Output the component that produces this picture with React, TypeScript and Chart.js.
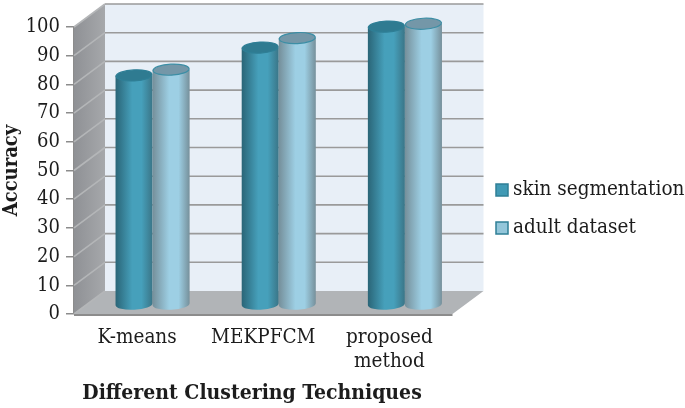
import React, { useEffect, useRef } from "react";
import { Chart, registerables } from "chart.js";

Chart.register(...registerables);

const categories = ["K-means", "MEKPFCM", ["proposed", "method"]];
const skinSegmentation = [80, 89.7, 97];
const adultDataset = [82, 93, 98];
const seriesNames = ["skin segmentation", "adult dataset"];
const xTitle = "Different Clustering Techniques";
const yTitle = "Accuracy";

const FONT = "'DejaVu Serif Condensed', 'DejaVu Serif', serif";
const DX = 31;
const DY = 23;
const TEXT = "#1c1c1c";

const palette = [
  { edgeL: "#2a6577", mid: "#46a0bb", edgeR: "#3a7587", top: "#2f7b91", line: "#2f7f96", swatch: "#419ab5" },
  { edgeL: "#758f9a", mid: "#9dcfe4", edgeR: "#76909b", top: "#7497a8", line: "#3c8ea5", swatch: "#93c6da" },
];

const scene = {
  id: "scene",
  beforeDatasetsDraw(chart: any) {
    const { ctx, scales } = chart;
    const y = scales.y;
    const x0 = scales.x.left;
    const x1 = scales.x.right;
    const bottom = y.getPixelForValue(0);
    const top = y.getPixelForValue(100);
    ctx.save();
    ctx.fillStyle = "#e8eff7";
    ctx.fillRect(x0 + DX, top - DY, x1 - x0, bottom - top);
    const g = ctx.createLinearGradient(x0, 0, x0 + DX, 0);
    g.addColorStop(0, "#8f9195");
    g.addColorStop(1, "#a6a8ab");
    ctx.fillStyle = g;
    ctx.beginPath();
    ctx.moveTo(x0, top);
    ctx.lineTo(x0 + DX, top - DY);
    ctx.lineTo(x0 + DX, bottom - DY);
    ctx.lineTo(x0, bottom);
    ctx.closePath();
    ctx.fill();
    ctx.fillStyle = "#b1b4b7";
    ctx.beginPath();
    ctx.moveTo(x0, bottom);
    ctx.lineTo(x0 + DX, bottom - DY);
    ctx.lineTo(x1 + DX, bottom - DY);
    ctx.lineTo(x1, bottom);
    ctx.closePath();
    ctx.fill();
    ctx.lineWidth = 1.6;
    y.ticks.forEach((t: any) => {
      const p = y.getPixelForValue(t.value);
      ctx.strokeStyle = "#b4b6b8";
      ctx.beginPath();
      ctx.moveTo(x0, p);
      ctx.lineTo(x0 + DX, p - DY);
      ctx.stroke();
      if (t.value > 0) {
        ctx.strokeStyle = "#9a9a9a";
        ctx.beginPath();
        ctx.moveTo(x0 + DX, p - DY);
        ctx.lineTo(x1 + DX, p - DY);
        ctx.stroke();
      }
    });
    ctx.strokeStyle = "#8c8c8c";
    ctx.lineWidth = 2;
    ctx.beginPath();
    ctx.moveTo(x0, bottom + 1);
    ctx.lineTo(x1, bottom + 1);
    ctx.stroke();
    ctx.restore();
  },
  afterDatasetsDraw(chart: any) {
    const { ctx } = chart;
    const ox = DX / 2;
    const oy = 9;
    const ry = 5.5;
    const tilt = -0.05;
    const n = chart.data.labels.length;
    ctx.save();
    for (let j = 0; j < n; j++) {
      [0, 1].forEach((i) => {
        const el = chart.getDatasetMeta(i).data[j];
        const c = palette[i];
        const cx = el.x + ox;
        const rx = el.width / 2;
        const t = el.y - oy;
        const b = el.base - oy;
        const g = ctx.createLinearGradient(cx - rx, 0, cx + rx, 0);
        g.addColorStop(0, c.edgeL);
        g.addColorStop(0.45, c.mid);
        g.addColorStop(0.7, c.mid);
        g.addColorStop(1, c.edgeR);
        ctx.fillStyle = g;
        ctx.beginPath();
        ctx.moveTo(cx - rx, t);
        ctx.lineTo(cx - rx, b);
        ctx.ellipse(cx, b, rx, ry, tilt, Math.PI, 0, true);
        ctx.lineTo(cx + rx, t);
        ctx.closePath();
        ctx.fill();
        ctx.fillStyle = c.top;
        ctx.strokeStyle = c.line;
        ctx.lineWidth = 1.2;
        ctx.beginPath();
        ctx.ellipse(cx, t, rx - 0.5, ry, tilt, 0, Math.PI * 2);
        ctx.fill();
        ctx.stroke();
      });
    }
    ctx.restore();
  },
  afterDraw(chart: any) {
    const { ctx } = chart;
    ctx.save();
    ctx.fillStyle = TEXT;
    ctx.textBaseline = "middle";
    ctx.textAlign = "left";
    ctx.font = `20.5px ${FONT}`;
    [190, 228].forEach((cy, i) => {
      const c = palette[i];
      ctx.fillStyle = c.swatch;
      ctx.strokeStyle = "#2f7f96";
      ctx.lineWidth = 1.5;
      ctx.fillRect(496, cy - 6, 12, 12);
      ctx.strokeRect(496, cy - 6, 12, 12);
      ctx.fillStyle = TEXT;
      ctx.fillText(chart.data.datasets[i].label, 513, cy);
    });
    ctx.textAlign = "center";
    ctx.font = `bold 21px ${FONT}`;
    ctx.fillText(xTitle, 252, 394);
    ctx.restore();
  },
};

export default function App() {
  const ref = useRef<HTMLCanvasElement>(null);
  useEffect(() => {
    const chart = new Chart(ref.current!, {
      type: "bar",
      data: {
        labels: categories as any,
        datasets: [
          { label: seriesNames[0], data: skinSegmentation, backgroundColor: "rgba(0,0,0,0)" },
          { label: seriesNames[1], data: adultDataset, backgroundColor: "rgba(0,0,0,0)" },
        ],
      },
      plugins: [scene],
      options: {
        responsive: false,
        animation: false,
        layout: { padding: { top: 27, right: 232.5, left: 0, bottom: 0 } },
        datasets: { bar: { categoryPercentage: 74 / 126, barPercentage: 1 } },
        plugins: { legend: { display: false }, tooltip: { enabled: false } },
        scales: {
          x: {
            grid: { display: false },
            border: { display: false },
            afterFit: (s: any) => { s.height = 94; },
            ticks: {
              color: TEXT,
              padding: 3,
              maxRotation: 0,
              font: { family: FONT, size: 20.5, lineHeight: 1.2 },
            },
          },
          y: {
            min: 0,
            max: 100,
            afterFit: (s: any) => { s.width = 74; },
            grid: { drawOnChartArea: false, color: "#8c8c8c", tickLength: 8, lineWidth: 1.5 },
            border: { color: "#8c8c8c", width: 1.5 },
            ticks: {
              stepSize: 10,
              color: TEXT,
              padding: 6,
              font: { family: FONT, size: 20 },
            },
            title: {
              display: true,
              text: yTitle,
              color: TEXT,
              padding: { top: 0, bottom: 0 },
              font: { family: FONT, size: 20, weight: "bold" },
            },
          },
        },
      },
    });
    return () => chart.destroy();
  }, []);
  return (
    <div style={{ position: "absolute", left: 0, top: 0, width: 685, height: 408 }}>
      <canvas ref={ref} width={685} height={408} style={{ display: "block" }} />
    </div>
  );
}
